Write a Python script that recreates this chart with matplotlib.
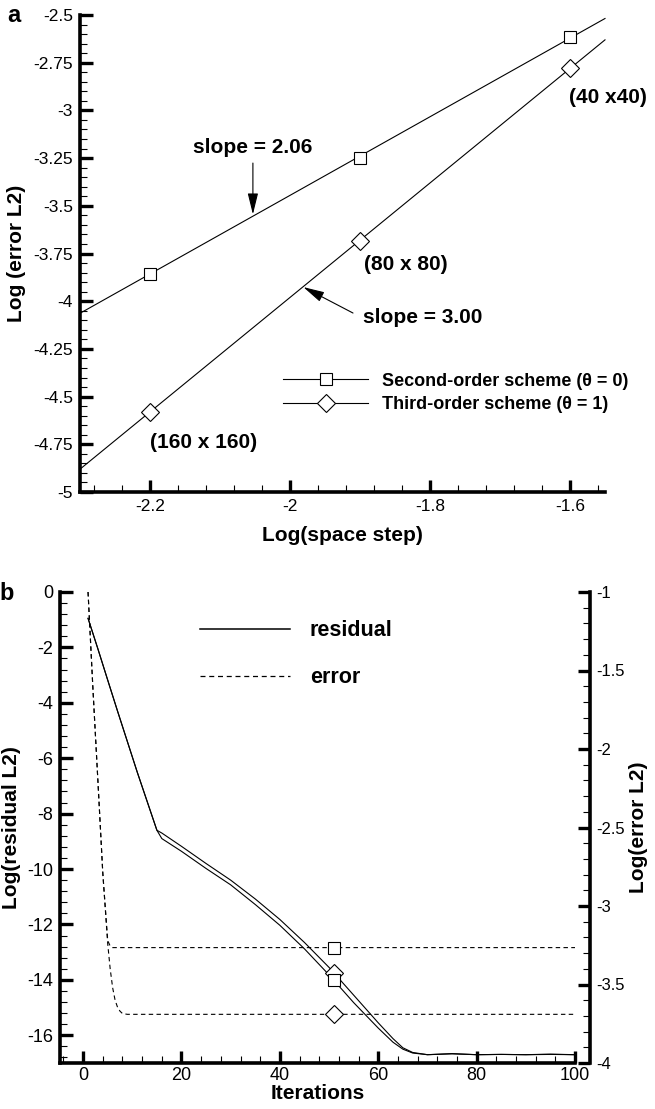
import numpy as np
import matplotlib
matplotlib.use('Agg')
import matplotlib.pyplot as plt
from matplotlib.ticker import MultipleLocator, FormatStrFormatter
from matplotlib.lines import Line2D

plt.rcParams['font.family'] = ['Liberation Sans', 'DejaVu Sans']

# (a) error against mesh size
log_h = [-2.2, -1.9, -1.6]
grid_labels = ['(160 x 160)', '(80 x 80)', '(40 x40)']
err_second = [-3.855, -3.248, -2.615]
err_third = [-4.582, -3.682, -2.777]
slope_second = 2.06
slope_third = 3.00

# (b) convergence history, 80 x 80 grid
it_res = [1, 3, 5, 7, 9, 11, 13, 15, 16, 20, 25, 30, 35, 40, 45, 50, 55, 60,
          63, 65, 67, 70, 75, 80, 85, 90, 95, 100]
res_third = [-0.95, -2.05, -3.18, -4.3, -5.4, -6.5, -7.55, -8.6, -8.7, -9.18,
             -9.8, -10.4, -11.08, -11.82, -12.65, -13.55, -14.55, -15.55,
             -16.12, -16.45, -16.62, -16.7, -16.66, -16.7, -16.69, -16.7, -16.68, -16.7]
res_second = [-0.95, -2.05, -3.18, -4.3, -5.4, -6.5, -7.55, -8.6, -8.9, -9.36,
              -9.98, -10.57, -11.28, -12.03, -12.88, -13.82, -14.82, -15.74,
              -16.25, -16.5, -16.64, -16.7, -16.67, -16.7, -16.69, -16.7, -16.69, -16.7]
it_err_second = [1, 2, 3, 4, 5, 5.5, 6, 7, 100]
err_hist_second = [-1.0, -1.62, -2.2, -2.79, -3.22, -3.255, -3.265, -3.265, -3.265]
it_err_third = [1, 2, 3, 4, 5, 5.5, 6, 6.5, 7, 7.5, 8, 9, 100]
err_hist_third = [-1.0, -1.62, -2.2, -2.79, -3.24, -3.40, -3.52, -3.6, -3.645,
                  -3.67, -3.685, -3.69, -3.69]
mark_iter = 51

MS = 9.3
mk = dict(mfc='white', mec='black', mew=0.8, ms=MS, ls='none', zorder=5)


def style_axis(ax, sides, size):
    for s in ['top', 'right', 'left', 'bottom']:
        ax.spines[s].set_visible(s in sides)
        ax.spines[s].set_linewidth(2.6)
    ax.tick_params(which='major', direction='in', length=9, width=2.4,
                   labelsize=size, pad=5)
    ax.tick_params(which='minor', direction='in', length=5, width=0.8)


fig = plt.figure(figsize=(6.55, 11.09), dpi=100)

# ---------------- panel a ----------------
ax = fig.add_axes([80 / 655, 1 - 492 / 1109, 525 / 655, 477 / 1109])
style_axis(ax, ['left', 'bottom'], 12.5)
ax.set_xlim(-2.3, -1.55)
ax.set_ylim(-5, -2.5)
ax.xaxis.set_major_locator(MultipleLocator(0.2))
ax.xaxis.set_minor_locator(MultipleLocator(0.04))
ax.yaxis.set_major_locator(MultipleLocator(0.25))
ax.yaxis.set_minor_locator(MultipleLocator(0.05))
ax.xaxis.set_major_formatter(FormatStrFormatter('%g'))
ax.yaxis.set_major_formatter(FormatStrFormatter('%g'))

xs = np.array(ax.get_xlim())
for yv, slope, m in [(err_second, slope_second, 's'), (err_third, slope_third, 'D')]:
    x0, y0 = np.mean(log_h), np.mean(yv)
    ax.plot(xs, y0 + slope * (xs - x0), color='black', lw=0.8, clip_on=False)
    ax.plot(log_h, yv, marker=m, **mk)

bold = dict(fontweight='bold', fontsize=15)
ax.text(-2.123, -4.738, grid_labels[0], ha='center', va='center', **bold)
ax.text(-1.834, -3.81, grid_labels[1], ha='center', va='center', **bold)
ax.text(-1.546, -2.93, grid_labels[2], ha='center', va='center', **bold)

arrow = dict(arrowstyle='-|>,head_length=0.65,head_width=0.16', color='black',
             lw=0.8, shrinkA=0, shrinkB=0, mutation_scale=20)
ax.text(-2.053, -3.192, 'slope = %.2f' % slope_second, ha='center', va='center', **bold)
ax.annotate('', xy=(-2.053, -3.545), xytext=(-2.053, -3.276), arrowprops=arrow)
ax.text(-1.896, -4.088, 'slope = %.2f' % slope_third, ha='left', va='center', **bold)
ax.annotate('', xy=(-1.981, -3.926), xytext=(-1.91, -4.062), arrowprops=arrow)

h_a = [Line2D([], [], color='black', lw=0.8, marker='s', mfc='white', mec='black', mew=0.8, ms=MS),
       Line2D([], [], color='black', lw=0.8, marker='D', mfc='white', mec='black', mew=0.8, ms=MS)]
ax.legend(h_a, ['Second-order scheme (\u03b8 = 0)', 'Third-order scheme (\u03b8 = 1)'],
          loc='upper left', bbox_to_anchor=(0.387, 0.25), frameon=False,
          prop={'weight': 'bold', 'size': 13}, handlelength=4.7,
          handletextpad=0.75, labelspacing=0.35, borderpad=0, borderaxespad=0)

ax.set_xlabel('Log(space step)', fontsize=15, fontweight='bold', labelpad=9)
ax.set_ylabel('Log (error L2)', fontsize=15, fontweight='bold', labelpad=5)
fig.text(14 / 655, 1 - 16 / 1109, 'a', fontsize=17, fontweight='bold', ha='center', va='center')

# ---------------- panel b ----------------
bx = fig.add_axes([60 / 655, 1 - 1063 / 1109, 515 / 655, 471 / 1109])
style_axis(bx, ['left', 'bottom'], 13)
bx.tick_params(axis='x', pad=3)
bx.set_xlim(-4.7, 100)
bx.set_ylim(-17, 0)
bx.xaxis.set_major_locator(MultipleLocator(20))
bx.xaxis.set_minor_locator(MultipleLocator(4))
bx.yaxis.set_major_locator(MultipleLocator(2))
bx.yaxis.set_minor_locator(MultipleLocator(0.4))
bx.yaxis.set_major_formatter(FormatStrFormatter('%g'))

bx2 = bx.twinx()
style_axis(bx2, ['right'], 12)
bx2.spines['right'].set_position(('outward', 11))
bx2.set_ylim(-4, -1)
bx2.yaxis.set_major_locator(MultipleLocator(0.5))
bx2.yaxis.set_minor_locator(MultipleLocator(0.1))
bx2.yaxis.set_major_formatter(FormatStrFormatter('%g'))
bx2.tick_params(axis='y', pad=4)

bx.plot(it_res, res_second, color='black', lw=0.8)
bx.plot(it_res, res_third, color='black', lw=0.8)
bx.plot([mark_iter], [np.interp(mark_iter, it_res, res_third)], marker='D', **mk)
bx.plot([mark_iter], [np.interp(mark_iter, it_res, res_second)], marker='s', **mk)

dash = (0, (4, 3))
bx2.plot(it_err_second, err_hist_second, color='black', lw=0.8, ls=dash)
bx2.plot(it_err_third, err_hist_third, color='black', lw=0.8, ls=dash)
bx2.plot([mark_iter], [np.interp(mark_iter, it_err_second, err_hist_second)], marker='s', **mk)
bx2.plot([mark_iter], [np.interp(mark_iter, it_err_third, err_hist_third)], marker='D', **mk)

h_b = [Line2D([], [], color='black', lw=1.1),
       Line2D([], [], color='black', lw=0.9, ls=dash)]
bx2.legend(h_b, ['residual', 'error'], loc='upper left', bbox_to_anchor=(0.272, 0.94),
           frameon=False, prop={'weight': 'bold', 'size': 15.5}, handlelength=4.2,
           handletextpad=0.9, labelspacing=1.2, borderpad=0, borderaxespad=0)

bx.set_xlabel('Iterations', fontsize=15, fontweight='bold', labelpad=0)
bx.set_ylabel('Log(residual L2)', fontsize=15, fontweight='bold', labelpad=4)
bx2.set_ylabel('Log(error L2)', fontsize=15, fontweight='bold', labelpad=3)
fig.text(7 / 655, 1 - 593 / 1109, 'b', fontsize=17, fontweight='bold', ha='center', va='center')

fig.savefig('out.png', dpi=100)
